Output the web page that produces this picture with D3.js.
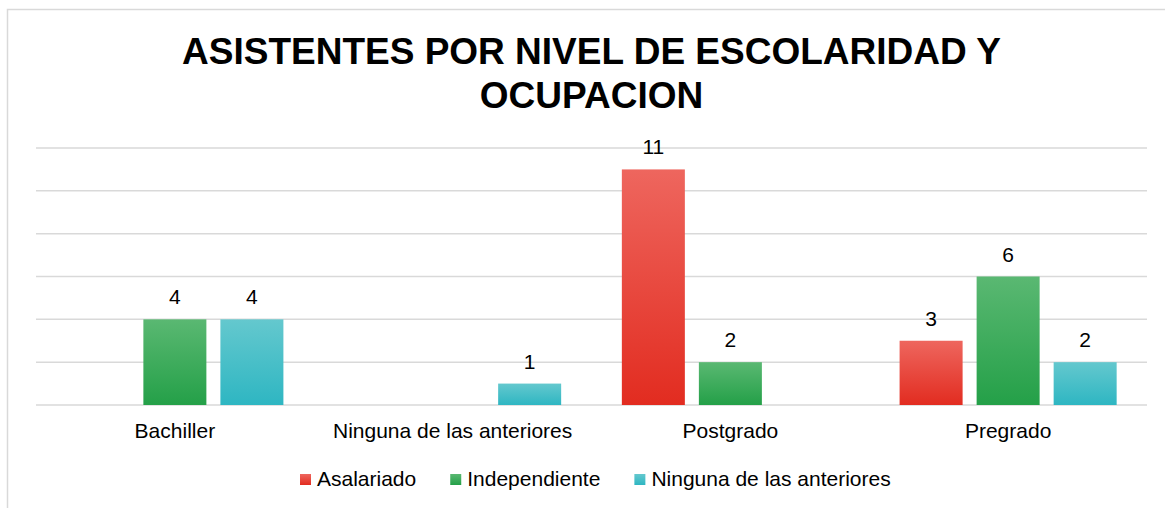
<!DOCTYPE html>
<html>
<head>
<meta charset="utf-8">
<script src="https://cdn.jsdelivr.net/npm/d3@7"></script>
<style>
  html, body { margin: 0; padding: 0; background: #fff; }
  svg { display: block; font-family: 'Liberation Sans', Arial, sans-serif; }
</style>
</head>
<body>
<script>
// Chart settings
const width = 1165
const height = 508
const plotLeft = 36
const plotRight = 1147
const plotTop = 148
const plotBottom = 405
const fontSize = 21

// Data
const categories = ['Bachiller', 'Ninguna de las anteriores', 'Postgrado', 'Pregrado']
const seriesNames = ['Asalariado', 'Independiente', 'Ninguna de las anteriores']
const asalariado = [null, null, 11, 3]
const independiente = [4, null, 2, 6]
const ninguna = [4, 1, null, 2]
const yTicks = [0, 2, 4, 6, 8, 10, 12]

const seriesValues = [asalariado, independiente, ninguna]

// Gradient colors (top, bottom)
const colors = [
  ['rgb(238, 102, 94)', 'rgb(226, 44, 32)'],
  ['rgb(90, 184, 114)', 'rgb(36, 160, 72)'],
  ['rgb(100, 200, 206)', 'rgb(46, 182, 194)']
]

const svg = d3.select('body')
  .append('svg')
  .attr('width', width)
  .attr('height', height)

// Gradients
const defs = svg.append('defs')
colors.forEach((c, i) => {
  const g = defs.append('linearGradient')
    .attr('id', 'grad' + i)
    .attr('x1', 0).attr('y1', 0)
    .attr('x2', 0).attr('y2', 1)
  g.append('stop').attr('offset', '0%').attr('stop-color', c[0])
  g.append('stop').attr('offset', '100%').attr('stop-color', c[1])
})

// Outer border
svg.append('rect')
  .attr('x', 7.5)
  .attr('y', 9.5)
  .attr('width', width + 10)
  .attr('height', height + 10)
  .attr('fill', 'none')
  .attr('stroke', '#d9d9d9')
  .attr('stroke-width', 1.5)

// Title
const title = svg.append('text')
  .attr('x', (plotLeft + plotRight) / 2)
  .attr('text-anchor', 'middle')
  .style('font-size', '37px')
  .style('font-weight', 'bold')
  .attr('fill', '#000')
title.append('tspan').attr('x', (plotLeft + plotRight) / 2).attr('y', 64)
  .text('ASISTENTES POR NIVEL DE ESCOLARIDAD Y')
title.append('tspan').attr('x', (plotLeft + plotRight) / 2).attr('y', 108)
  .text('OCUPACION')

// Scales
const x0 = d3.scaleBand()
  .domain(categories)
  .range([plotLeft, plotRight])
  .padding(0)
const x1 = d3.scaleBand()
  .domain(seriesNames)
  .range([0, x0.bandwidth()])
  .paddingInner(0.182)
  .paddingOuter(0.394)
const y = d3.scaleLinear()
  .domain([0, 12])
  .range([plotBottom, plotTop])

// Gridlines
svg.append('g')
  .selectAll('line')
  .data(yTicks)
  .join('line')
  .attr('x1', plotLeft)
  .attr('x2', plotRight)
  .attr('y1', d => y(d))
  .attr('y2', d => y(d))
  .attr('stroke', '#d9d9d9')
  .attr('stroke-width', 1.5)

// Bars
const bars = []
categories.forEach((cat, ci) => {
  seriesNames.forEach((s, si) => {
    const v = seriesValues[si][ci]
    if (v != null) bars.push({ cat, s, si, v })
  })
})

svg.append('g')
  .selectAll('rect')
  .data(bars)
  .join('rect')
  .attr('x', d => x0(d.cat) + x1(d.s))
  .attr('y', d => y(d.v))
  .attr('width', x1.bandwidth())
  .attr('height', d => y(0) - y(d.v))
  .attr('fill', d => `url(#grad${d.si})`)

// Data labels
svg.append('g')
  .selectAll('text')
  .data(bars)
  .join('text')
  .attr('x', d => x0(d.cat) + x1(d.s) + x1.bandwidth() / 2)
  .attr('y', d => y(d.v) - 15)
  .attr('text-anchor', 'middle')
  .style('font-size', fontSize + 'px')
  .attr('fill', '#000')
  .text(d => d.v)

// Category labels
const xAxis = d3.axisBottom(x0).tickSize(0).tickPadding(0)
const xg = svg.append('g')
  .attr('transform', `translate(0, ${plotBottom})`)
  .call(xAxis)
xg.select('.domain').remove()
xg.selectAll('text')
  .attr('y', 33)
  .attr('dy', 0)
  .style('font-size', fontSize + 'px')
  .style('font-family', "'Liberation Sans', Arial, sans-serif")
  .attr('fill', '#000')

// Legend
const legend = svg.append('g')
const items = legend.selectAll('g')
  .data(seriesNames)
  .join('g')
items.append('rect')
  .attr('y', 474)
  .attr('width', 11)
  .attr('height', 11)
  .attr('fill', (d, i) => `url(#grad${i})`)
items.append('text')
  .attr('x', 17)
  .attr('y', 486)
  .style('font-size', fontSize + 'px')
  .attr('fill', '#000')
  .text(d => d)

let lx = 300
items.each(function () {
  const g = d3.select(this)
  g.attr('transform', `translate(${lx}, 0)`)
  const w = g.select('text').node().getComputedTextLength()
  lx += 17 + w + 34
})
</script>
</body>
</html>
